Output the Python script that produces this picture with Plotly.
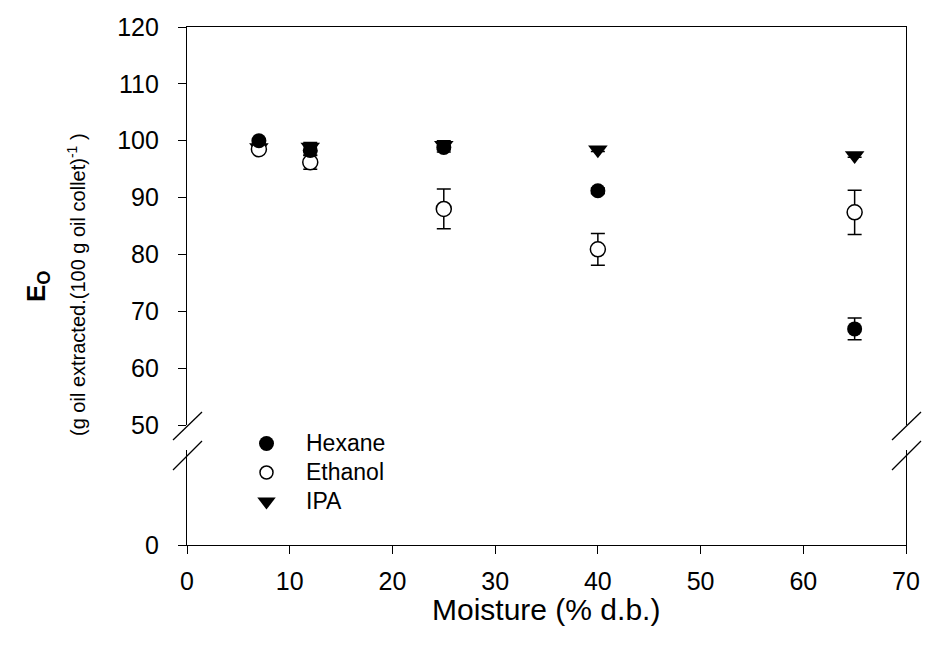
import plotly.graph_objects as go

moisture = [7, 12, 25, 40, 65]
hexane = [100.0, 98.3, 98.8, 91.2, 66.9]
hexane_err = [0.3, 0.8, 0.8, 0.5, 1.9]
ethanol = [98.5, 96.2, 88.0, 80.9, 87.4]
ethanol_err = [0.5, 1.2, 3.5, 2.8, 3.9]
ipa = [98.8, 98.9, 99.2, 98.4, 97.4]
ipa_err = [0.3, 0.8, 0.8, 0.3, 0.3]

x_ticks = [0, 10, 20, 30, 40, 50, 60, 70]
y_upper_ticks = [50, 60, 70, 80, 90, 100, 110, 120]

FONT = "Arial, Liberation Sans, sans-serif"
L, R, T, B = 187, 906, 27, 545
W, H = 925, 653

def px(xp):
    return (xp - L) / (R - L)

def py(yp):
    return (B - yp) / (B - T)

upper_bottom = py(425)
lower_top = py(450)

fig = go.Figure()

def err(vals):
    return dict(type="data", array=vals, visible=True, color="black", thickness=1.5, width=7)

def big(s):
    return "<span style='font-size:23px'>" + s + "</span>"

# invisible trace so the lower axis segment is drawn
fig.add_trace(go.Scatter(x=[0], y=[0], mode="markers", marker=dict(opacity=0),
                         xaxis="x", yaxis="y", showlegend=False, hoverinfo="skip"))

fig.add_trace(go.Scatter(x=moisture, y=ipa, mode="markers", name="IPA",
                         error_y=err(ipa_err),
                         marker=dict(symbol="triangle-down", size=17, color="black"),
                         xaxis="x2", yaxis="y2", showlegend=False))
fig.add_trace(go.Scatter(x=moisture, y=ethanol, mode="markers", name="Ethanol",
                         error_y=err(ethanol_err),
                         marker=dict(symbol="circle", size=15, color="white",
                                     line=dict(color="black", width=1.5)),
                         xaxis="x2", yaxis="y2", showlegend=False))
fig.add_trace(go.Scatter(x=moisture, y=hexane, mode="markers", name="Hexane",
                         error_y=err(hexane_err),
                         marker=dict(symbol="circle", size=15, color="black"),
                         xaxis="x2", yaxis="y2", showlegend=False))

# legend entries
fig.add_trace(go.Scatter(x=[None], y=[None], mode="markers", name=big("Hexane"),
                         marker=dict(symbol="circle", size=15, color="black"),
                         xaxis="x2", yaxis="y2"))
fig.add_trace(go.Scatter(x=[None], y=[None], mode="markers", name=big("Ethanol"),
                         marker=dict(symbol="circle", size=13, color="white",
                                     line=dict(color="black", width=1.5)),
                         xaxis="x2", yaxis="y2"))
fig.add_trace(go.Scatter(x=[None], y=[None], mode="markers", name=big("IPA"),
                         marker=dict(symbol="triangle-down", size=17, color="black"),
                         xaxis="x2", yaxis="y2"))

line_common = dict(showgrid=False, zeroline=False, showline=True, linecolor="black",
                   linewidth=1.3, automargin=False)
tick_common = dict(ticks="outside", ticklen=8, tickwidth=1.3, tickcolor="black")

fig.update_layout(
    width=W, height=H,
    margin=dict(l=L, r=W - R, t=T, b=H - B),
    plot_bgcolor="white", paper_bgcolor="white",
    font=dict(family=FONT, color="black"),
    xaxis=dict(range=[0, 70], tickvals=x_ticks, domain=[0, 1], anchor="y",
               tickfont=dict(family=FONT, size=25, color="black"),
               ticklabelstandoff=6, **line_common, **tick_common),
    xaxis2=dict(range=[0, 70], anchor="y2", side="top", matches="x",
                ticks="", showticklabels=False, **line_common),
    yaxis=dict(range=[0, 16.7], tickvals=[0], domain=[0, lower_top], anchor="x",
               mirror=True, tickfont=dict(family=FONT, size=25, color="black"),
               ticklabelstandoff=14, **line_common, **tick_common),
    yaxis2=dict(range=[50, 120], tickvals=y_upper_ticks, domain=[upper_bottom, 1],
                anchor="x2", mirror=True, tickfont=dict(family=FONT, size=25, color="black"),
                ticklabelstandoff=14, **line_common, **tick_common),
    legend=dict(x=px(227), y=py(424), xanchor="left", yanchor="top",
                font=dict(family=FONT, size=20, color="black"),
                bgcolor="rgba(0,0,0,0)", itemsizing="trace", tracegroupgap=0,
                itemwidth=69),
    showlegend=True,
)

# x-axis title
fig.add_annotation(text="Moisture (% d.b.)", xref="paper", yref="paper",
                   x=px(546), y=py(609), xanchor="center", yanchor="middle",
                   showarrow=False, font=dict(family=FONT, size=30, color="black"))
# y-axis titles
fig.add_annotation(text="<b>E<sub>O</sub></b>", xref="paper", yref="paper",
                   x=px(37), y=py(286), xanchor="center", yanchor="middle",
                   textangle=-90, showarrow=False,
                   font=dict(family=FONT, size=26, color="black"))
fig.add_annotation(text="(g oil extracted.(100 g oil collet)<sup>-1</sup> )",
                   xref="paper", yref="paper",
                   x=px(76), y=py(285), xanchor="center", yanchor="middle",
                   textangle=-90, showarrow=False,
                   font=dict(family=FONT, size=20, color="black"))

# axis break marks
for xc in (L, R):
    for (y0, y1) in ((440, 412), (470, 441)):
        fig.add_shape(type="line", xref="paper", yref="paper",
                      x0=px(xc - 14), y0=py(y0), x1=px(xc + 15), y1=py(y1),
                      line=dict(color="black", width=1.3))

fig.write_html("out.html")
